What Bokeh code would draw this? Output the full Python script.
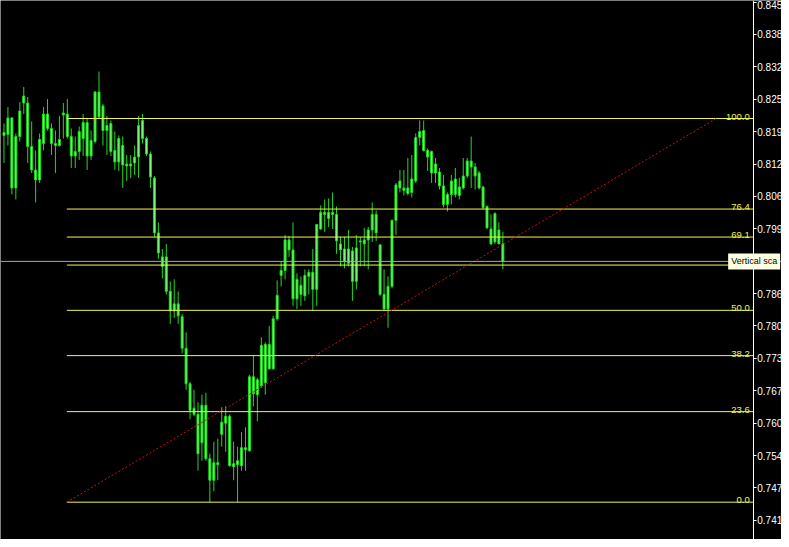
from bokeh.plotting import figure
from bokeh.models import Range1d, FixedTicker, Span, Label, ColumnDataSource
from bokeh.embed import file_html
from bokeh.resources import INLINE
from bokeh.core.properties import value

# ---------------- data ----------------
bar_index = list(range(127))
open_ = [0.8182,0.8184,0.8217,0.8077,0.8180,0.8247,0.8247,0.8160,0.8113,0.8093,
         0.8166,0.8225,0.8196,0.8166,0.8162,0.8223,0.8225,0.8180,0.8141,0.8150,
         0.8176,0.8208,0.8141,0.8170,0.8269,0.8241,0.8192,0.8206,0.8152,0.8129,
         0.8162,0.8125,0.8121,0.8127,0.8139,0.8212,0.8176,0.8145,0.8097,0.7987,
         0.7939,0.7939,0.7870,0.7831,0.7845,0.7819,0.7756,0.7685,0.7636,0.7624,
         0.7567,0.7642,0.7535,0.7492,0.7527,0.7584,0.7606,0.7620,0.7519,0.7523,
         0.7521,0.7557,0.7551,0.7699,0.7663,0.7681,0.7764,0.7715,0.7715,0.7815,
         0.7902,0.7912,0.7973,0.7953,0.7855,0.7882,0.7861,0.7900,0.7908,0.7874,
         0.7995,0.8028,0.8028,0.8024,0.8024,0.7965,0.7955,0.7926,0.7951,0.7890,
         0.7969,0.7973,0.7973,0.7993,0.8024,0.7963,0.7864,0.7835,0.7880,0.8012,
         0.8077,0.8077,0.8066,0.8068,0.8091,0.8178,0.8192,0.8152,0.8150,0.8107,
         0.8109,0.8081,0.8044,0.8064,0.8095,0.8062,0.8077,0.8101,0.8131,0.8119,
         0.8107,0.8079,0.8040,0.7995,0.7969,0.7993,0.7965]
high = [0.8206,0.8239,0.8219,0.8186,0.8249,0.8279,0.8259,0.8210,0.8152,0.8186,
        0.8239,0.8255,0.8206,0.8192,0.8221,0.8247,0.8255,0.8196,0.8180,0.8200,
        0.8225,0.8216,0.8192,0.8271,0.8310,0.8245,0.8221,0.8212,0.8190,0.8182,
        0.8180,0.8143,0.8143,0.8162,0.8221,0.8225,0.8180,0.8150,0.8101,0.8008,
        0.7955,0.7965,0.7890,0.7894,0.7870,0.7825,0.7788,0.7689,0.7673,0.7648,
        0.7663,0.7667,0.7545,0.7569,0.7575,0.7638,0.7640,0.7624,0.7569,0.7559,
        0.7588,0.7598,0.7703,0.7742,0.7697,0.7778,0.7768,0.7801,0.7821,0.7892,
        0.7930,0.7983,0.7981,0.8008,0.7906,0.7900,0.7914,0.7914,0.7955,0.8004,
        0.8042,0.8054,0.8056,0.8068,0.8040,0.7979,0.7979,0.7993,0.7959,0.7983,
        0.7979,0.7997,0.7999,0.8048,0.8032,0.7965,0.7914,0.7900,0.8014,0.8087,
        0.8113,0.8113,0.8137,0.8143,0.8186,0.8212,0.8212,0.8156,0.8152,0.8137,
        0.8117,0.8103,0.8068,0.8103,0.8117,0.8097,0.8137,0.8137,0.8180,0.8127,
        0.8111,0.8081,0.8042,0.8024,0.8028,0.8008,0.7989]
low = [0.8127,0.8162,0.8064,0.8054,0.8170,0.8225,0.8127,0.8107,0.8048,0.8087,
       0.8152,0.8192,0.8143,0.8107,0.8160,0.8176,0.8176,0.8117,0.8117,0.8133,
       0.8141,0.8113,0.8133,0.8166,0.8216,0.8162,0.8143,0.8141,0.8113,0.8111,
       0.8077,0.8091,0.8097,0.8103,0.8097,0.8166,0.8141,0.8077,0.7979,0.7935,
       0.7896,0.7864,0.7805,0.7817,0.7805,0.7746,0.7673,0.7614,0.7620,0.7511,
       0.7531,0.7531,0.7448,0.7470,0.7492,0.7559,0.7549,0.7519,0.7492,0.7448,
       0.7511,0.7511,0.7549,0.7640,0.7610,0.7677,0.7663,0.7713,0.7713,0.7811,
       0.7880,0.7894,0.7939,0.7841,0.7835,0.7841,0.7851,0.7864,0.7831,0.7841,
       0.7993,0.7989,0.7999,0.7995,0.7945,0.7920,0.7916,0.7920,0.7851,0.7874,
       0.7920,0.7920,0.7914,0.7969,0.7971,0.7861,0.7831,0.7797,0.7876,0.7983,
       0.8068,0.8062,0.8062,0.8058,0.8087,0.8162,0.8150,0.8111,0.8087,0.8087,
       0.8074,0.8038,0.8030,0.8044,0.8058,0.8054,0.8074,0.8097,0.8077,0.8074,
       0.8074,0.8034,0.7995,0.7963,0.7965,0.7965,0.7914]
close = [0.8188,0.8217,0.8077,0.8180,0.8231,0.8261,0.8160,0.8113,0.8093,0.8174,
         0.8225,0.8196,0.8166,0.8162,0.8174,0.8227,0.8180,0.8141,0.8150,0.8190,
         0.8208,0.8141,0.8172,0.8269,0.8219,0.8192,0.8202,0.8150,0.8129,0.8176,
         0.8123,0.8121,0.8125,0.8139,0.8202,0.8176,0.8145,0.8099,0.7987,0.7947,
         0.7920,0.7870,0.7831,0.7845,0.7821,0.7756,0.7685,0.7632,0.7624,0.7545,
         0.7642,0.7535,0.7492,0.7527,0.7523,0.7608,0.7620,0.7521,0.7525,0.7531,
         0.7557,0.7553,0.7699,0.7665,0.7693,0.7762,0.7687,0.7764,0.7815,0.7862,
         0.7912,0.7973,0.7953,0.7855,0.7894,0.7864,0.7902,0.7908,0.7874,0.8004,
         0.8028,0.8024,0.8016,0.8028,0.7971,0.7953,0.7930,0.7955,0.7890,0.7957,
         0.7971,0.7965,0.7993,0.8024,0.7987,0.7864,0.7835,0.7880,0.8012,0.8083,
         0.8091,0.8072,0.8077,0.8095,0.8178,0.8190,0.8152,0.8139,0.8107,0.8125,
         0.8081,0.8044,0.8064,0.8091,0.8064,0.8079,0.8101,0.8131,0.8119,0.8101,
         0.8077,0.8038,0.7997,0.7965,0.8026,0.7965,0.7930]

fib_levels = [0.0, 23.6, 38.2, 50.0, 61.8, 69.1, 76.4, 100.0]
fib_labels = ["0.0", "23.6", "38.2", "50.0", "", "69.1", "76.4", "100.0"]  # 61.8 hidden by the line label
fib_low_price = 0.7448
fib_high_price = 0.8216
fib_start_bar = 15.875
fib_end_bar = 179.875

hline_price = 0.7930
hline_text = "Vertical sca"

tick_labels = ["0.845", "0.838", "0.832", "0.825", "0.819", "0.812", "0.806", "0.799",
               "0.793", "0.786", "0.780", "0.773", "0.767", "0.760", "0.754", "0.747", "0.741"]
tick_top = 0.8449
tick_step = 0.006483

# chart geometry in bar units
axis_bar = 189.25          # where the price scale sits
x_min, x_max = -0.875, 196.375

# ---------------- figure ----------------
p = figure(frame_width=781, frame_height=539,
           x_range=Range1d(x_min, x_max), y_range=Range1d(0.73733, 0.84522),
           x_axis_location=None, y_axis_location="right",
           toolbar_location=None, output_backend="svg",
           background_fill_color="black", border_fill_color="black",
           min_border_left=0, min_border_top=0, min_border_bottom=0, min_border_right=0,
           outline_line_color=None)
p.grid.visible = False

# y axis (price scale drawn at a fixed place inside the chart)
ticks, overrides = [], {}
for k, lab in enumerate(tick_labels):
    if lab == "0.793":
        continue  # covered by the line label box
    t = round(tick_top - k * tick_step, 6)
    ticks.append(t)
    overrides[t] = lab
ax = p.yaxis[0]
ax.fixed_location = axis_bar
ax.ticker = FixedTicker(ticks=ticks)
ax.major_label_overrides = overrides
ax.axis_line_color = "white"
ax.major_tick_line_color = "white"
ax.major_tick_out = 3
ax.major_tick_in = 0
ax.minor_tick_line_color = None
ax.major_label_text_color = "white"
ax.major_label_text_font = "Liberation Sans"
ax.major_label_text_font_size = "10px"
ax.major_label_standoff = 1

# candles
top = [max(o, c) for o, c in zip(open_, close)]
bot = [min(o, c) for o, c in zip(open_, close)]
src = ColumnDataSource(dict(x=bar_index, high=high, low=low, top=top, bottom=bot))
p.segment(x0="x", y0="high", x1="x", y1="low", source=src, line_color="#22d822", line_width=1)
p.vbar(x="x", width=0.5, top="top", bottom="bottom", source=src,
       fill_color="#80f780", line_color="#14e014", line_width=1)

# fibonacci levels
rng = fib_high_price - fib_low_price
lvl_prices = [fib_low_price + l / 100.0 * rng for l in fib_levels]
p.segment(x0=[fib_start_bar] * len(lvl_prices), y0=lvl_prices,
          x1=[axis_bar] * len(lvl_prices), y1=lvl_prices,
          line_color="#f4f450", line_width=1)
lab_x, lab_y, lab_t = [], [], []
for pr, t in zip(lvl_prices, fib_labels):
    if t:
        lab_x.append(axis_bar - 0.9)
        lab_y.append(pr)
        lab_t.append(t)
p.text(x=lab_x, y=lab_y, text=lab_t, text_align="right", text_baseline="alphabetic",
       y_offset=-2, text_color="#f4f450", text_font=value("Liberation Sans"),
       text_font_size="9.5px")

# fibo trend line (anchor points)
p.line([fib_start_bar, fib_end_bar], [fib_low_price, fib_high_price],
       line_color="#c81414", line_dash="2 2", line_width=1)

# horizontal line with its label
p.add_layout(Span(location=hline_price, dimension="width", line_color="#a0a9b8", line_width=1))
p.add_layout(Label(x=182.9, y=hline_price, text=hline_text, text_align="left",
                   text_baseline="middle", text_color="black",
                   text_font="Liberation Sans", text_font_size="9px",
                   background_fill_color="#ffffe1", padding=3))

open("out.html", "w").write(file_html(p, INLINE))
